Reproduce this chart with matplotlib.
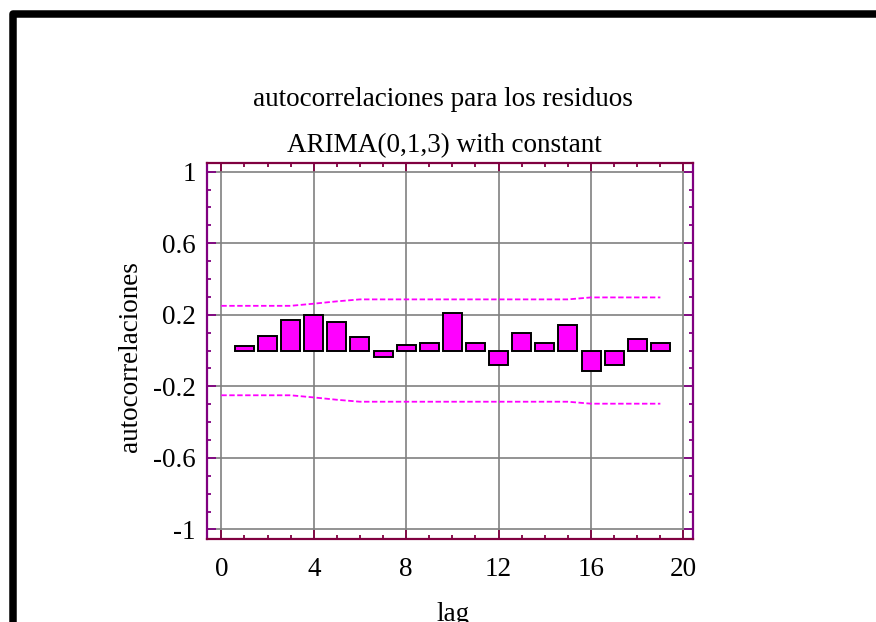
import matplotlib
matplotlib.use("Agg")
import matplotlib.pyplot as plt
from matplotlib.lines import Line2D
from matplotlib.ticker import MultipleLocator, FixedLocator, FuncFormatter

# residual autocorrelations
lags = list(range(1, 20))
acf = [0.026, 0.082, 0.17, 0.20, 0.16, 0.078, -0.035, 0.032, 0.044, 0.21,
       0.044, -0.078, 0.10, 0.044, 0.145, -0.112, -0.078, 0.065, 0.044]

# 95% limits
band_x = list(range(0, 20))
band_up = [0.25, 0.25, 0.25, 0.25, 0.262, 0.275, 0.286, 0.286, 0.286, 0.286,
           0.286, 0.286, 0.286, 0.286, 0.286, 0.286, 0.297, 0.297, 0.297, 0.297]
band_lo = [-v for v in band_up]

title1 = "autocorrelaciones para los residuos"
title2 = "ARIMA(0,1,3) with constant"
xticks = [0, 4, 8, 12, 16, 20]
yticks = [-1, -0.6, -0.2, 0.2, 0.6, 1]

plt.rcParams['font.family'] = ['Liberation Serif', 'DejaVu Serif']
plt.rcParams['axes.unicode_minus'] = False

PURPLE = "#800080"
MAROON = "#800040"
FS = 19.5

fig = plt.figure(figsize=(8.76, 6.22), dpi=100)
ax = fig.add_axes([207 / 876, 1 - 539.3 / 622, 485.7 / 876, 376.6 / 622])

ax.grid(True, color="#808080", linewidth=1.2, zorder=0)
ax.set_axisbelow(True)

ax.bar(lags, acf, width=0.82, color="#FF00FF", edgecolor="black",
       linewidth=1.4, zorder=3)
ax.plot(band_x, band_up, color="#FF00FF", linewidth=1.3, dashes=(3, 1.4), zorder=4)
ax.plot(band_x, band_lo, color="#FF00FF", linewidth=1.3, dashes=(3, 1.4), zorder=4)

ax.set_xlim(-0.62, 20.4)
ax.set_ylim(-1.055, 1.05)

ax.xaxis.set_major_locator(FixedLocator(xticks))
ax.xaxis.set_minor_locator(MultipleLocator(1))
ax.yaxis.set_major_locator(FixedLocator(yticks))
ax.yaxis.set_minor_locator(MultipleLocator(0.1))
ax.yaxis.set_major_formatter(FuncFormatter(lambda v, p: "%g" % v))

for side in ["left", "right"]:
    ax.spines[side].set_color(PURPLE)
    ax.spines[side].set_linewidth(1.6)
for side in ["top", "bottom"]:
    ax.spines[side].set_color(MAROON)
    ax.spines[side].set_linewidth(1.6)

ax.tick_params(axis="x", which="both", direction="in", top=True, bottom=True,
               color=MAROON, width=1.3, labelsize=FS, pad=13)
ax.tick_params(axis="y", which="both", direction="in", left=True, right=True,
               color=PURPLE, width=1.3, labelsize=FS, pad=8)
ax.tick_params(which="major", length=6.5)
ax.tick_params(which="minor", length=3)

fig.text(443 / 876, 1 - 106 / 622, title1, ha="center", va="baseline", fontsize=FS)
fig.text(444 / 876, 1 - 152 / 622, title2, ha="center", va="baseline", fontsize=FS)
fig.text(130 / 876, 1 - 357 / 622, "autocorrelaciones", rotation=90,
         ha="center", va="center", fontsize=FS)
fig.text(453 / 876, 1 - 621 / 622, "lag", ha="center", va="baseline", fontsize=FS)

# black frame along top and left
frame = Line2D([13 / 876, 13 / 876, 1.0], [0.0, 1 - 13.7 / 622, 1 - 13.7 / 622],
               transform=fig.transFigure, color="black", linewidth=5.4,
               solid_joinstyle="round", solid_capstyle="butt")
fig.add_artist(frame)

fig.savefig("out.png", dpi=100)
